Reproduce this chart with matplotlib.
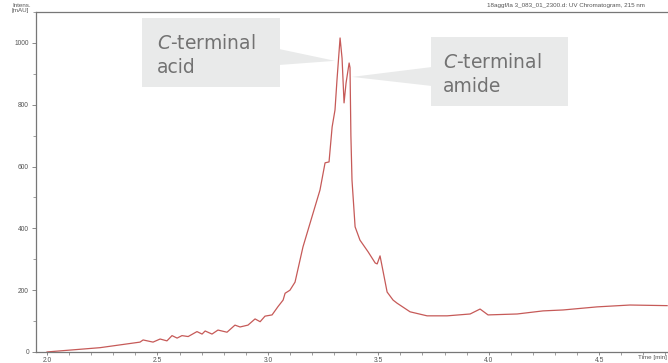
import matplotlib
matplotlib.use("Agg")
import matplotlib.pyplot as plt
from matplotlib.patches import Rectangle, Polygon
from matplotlib.transforms import Affine2D
from matplotlib.ticker import MultipleLocator

# UV chromatogram trace (time in min, intensity in mAU)
time_min = [2.000, 2.014, 2.240, 2.421, 2.435, 2.480, 2.512, 2.543, 2.566, 2.589,
            2.611, 2.639, 2.679, 2.702, 2.716, 2.747, 2.774, 2.815, 2.851, 2.874,
            2.910, 2.942, 2.965, 2.987, 3.019, 3.046, 3.069, 3.078, 3.100, 3.123,
            3.159, 3.205, 3.236, 3.259, 3.277, 3.291, 3.304, 3.313, 3.327, 3.336,
            3.345, 3.354, 3.368, 3.372, 3.376, 3.381, 3.395, 3.417, 3.454, 3.486,
            3.495, 3.508, 3.522, 3.540, 3.567, 3.585, 3.644, 3.721, 3.812, 3.916,
            3.961, 3.997, 4.129, 4.246, 4.337, 4.491, 4.640, 4.808]
intens_mau = [0, 1, 14, 32, 39, 32, 42, 36, 53, 45,
              53, 50, 66, 58, 68, 58, 71, 64, 87, 81,
              87, 107, 98, 116, 120, 147, 168, 190, 200, 226,
              340, 450, 524, 612, 615, 728, 783, 880, 1016, 950,
              806, 870, 935, 920, 700, 556, 405, 362, 324, 288,
              285, 311, 260, 194, 168, 158, 130, 117, 117, 123,
              139, 120, 123, 133, 136, 146, 152, 150]

x_ticks = [2.0, 2.5, 3.0, 3.5, 4.0, 4.5]
y_ticks = [0, 200, 400, 600, 800, 1000]

# Callout labels and the points on the trace they mark
acid_tip = (3.304, 942)
amide_tip = (3.381, 890)

W, H = 668, 363
fig = plt.figure(figsize=(W / 100, H / 100), dpi=100)
ax = fig.add_axes([36 / W, 1 - 352 / H, 1 - 36 / W, (352 - 12) / H])

ax.plot(time_min, intens_mau, color="#c65a58", lw=0.9)
ax.set_xlim(1.95, 4.812)
ax.set_ylim(0, 1100)

ax.set_xticks(x_ticks)
ax.set_xticklabels([f"{v:.1f}" for v in x_ticks])
ax.set_yticks(y_ticks)
ax.set_yticklabels([str(v) for v in y_ticks])
ax.xaxis.set_minor_locator(MultipleLocator(0.1))
ax.yaxis.set_minor_locator(MultipleLocator(100))
for lab in ax.get_xticklabels() + ax.get_yticklabels():
    lab.set_fontfamily("Liberation Sans")
ax.tick_params(axis="both", which="major", length=3, width=0.6, color="#777777",
               labelsize=4.8, labelcolor="#555555", pad=2)
ax.tick_params(axis="x", which="major", length=2.5, pad=0.8)
ax.tick_params(axis="both", which="minor", length=2, width=0.5, color="#777777")
ax.spines["right"].set_visible(False)
for s in ("left", "bottom", "top"):
    ax.spines[s].set_color("#777777")
    ax.spines[s].set_linewidth(0.9)

# Pixel coordinate helper (origin top-left)
px = Affine2D().scale(1 / W, -1 / H).translate(0, 1) + fig.transFigure


def to_px(xy):
    dx, dy = ax.transData.transform(xy)
    return dx, H - dy


fill = "#e9eaea"
txtc = "#727272"

# Acid callout
fig.patches.append(Rectangle((142, 18), 138, 69, transform=px, facecolor=fill,
                             edgecolor="none", zorder=5))
tx, ty = to_px(acid_tip)
fig.patches.append(Polygon([(279, 49), (279, 65), (tx, ty)], closed=True,
                           transform=px, facecolor=fill, edgecolor="none", zorder=5))
fig.text(157 / W, 1 - 49 / H, r"$\mathit{C}$" + "-terminal", fontsize=13.5,
         color=txtc, va="baseline", ha="left", zorder=6)
fig.text(157 / W, 1 - 73 / H, "acid", fontsize=13.5, color=txtc,
         va="baseline", ha="left", zorder=6)

# Amide callout
fig.patches.append(Rectangle((431, 37), 137, 69, transform=px, facecolor=fill,
                             edgecolor="none", zorder=5))
tx, ty = to_px(amide_tip)
fig.patches.append(Polygon([(432, 67), (432, 86), (tx, ty)], closed=True,
                           transform=px, facecolor=fill, edgecolor="none", zorder=5))
fig.text(443 / W, 1 - 68 / H, r"$\mathit{C}$" + "-terminal", fontsize=13.5,
         color=txtc, va="baseline", ha="left", zorder=6)
fig.text(443 / W, 1 - 92 / H, "amide", fontsize=13.5, color=txtc,
         va="baseline", ha="left", zorder=6)

# Header and axis captions
fig.text(12 / W, 1 - 8 / H, "Intens.\n[mAU]", fontsize=4.5, color="#555555",
         family="Liberation Sans", va="center", ha="left", linespacing=1.1)
fig.text(487 / W, 1 - 5 / H, "18aggf/la 3_083_01_2300.d: UV Chromatogram, 215 nm",
         fontsize=4.5, color="#555555", family="Liberation Sans", va="center", ha="left")
fig.text(638 / W, 1 - 358 / H, "Time [min]", fontsize=4.5, color="#555555",
         family="Liberation Sans", va="center", ha="left")

fig.savefig("out.png", dpi=100)
